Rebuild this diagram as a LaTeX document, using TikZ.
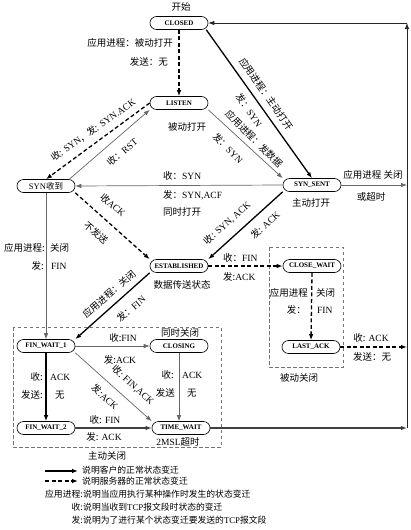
\documentclass[tikz,border=0pt]{standalone}
\usepackage{fontspec}
\setmainfont{Liberation Serif}
\newfontfamily\cjk{Noto Sans CJK SC}
\usetikzlibrary{arrows.meta}
\newcommand{\zh}[1]{{\cjk #1}}
\begin{document}
\begin{tikzpicture}[x=1pt,y=-1pt,
  state/.style={draw, line width=0.6pt, rounded corners=6.5pt, minimum width=58pt, minimum height=13pt, inner sep=1pt, font=\fontsize{7}{8}\selectfont\bfseries},
  lbl/.style={font=\fontsize{9.5}{11}\selectfont, inner sep=0pt},
  leg/.style={font=\fontsize{8.8}{10}\selectfont, inner sep=0pt},
  tip/.style={-{Latex[length=6pt,width=4.5pt]}},
  cli/.style={tip, line width=1.3pt, black},
  srv/.style={tip, line width=1.3pt, black, dash pattern=on 4pt off 2.5pt},
  oth/.style={tip, line width=0.7pt, black!60},
  thk/.style={tip, line width=1.5pt, black!75},
  rline/.style={tip, line width=0.8pt, black!85},
  boxd/.style={draw=black!55, line width=0.7pt, dash pattern=on 3.5pt off 2.5pt}
]
\useasboundingbox (0,0) rectangle (410,530);

% dashed group boxes
\draw[boxd] (269,247) rectangle (343,367);
\draw[boxd] (13,327) rectangle (221,447);

% states
\node[state] (closed) at (179,23) {CLOSED};
\node[state] (listen) at (179,103) {LISTEN};
\node[state, font=\fontsize{8.5}{9}\selectfont] (synrcvd) at (46,186) {SYN\zh{收到}};
\node[state] (synsent) at (312,185) {SYN\_SENT};
\node[state] (est) at (179,266) {ESTABLISHED};
\node[state] (closewait) at (312,266) {CLOSE\_WAIT};
\node[state] (lastack) at (311,347) {LAST\_ACK};
\node[state] (fw1) at (46,346) {FIN\_WAIT\_1};
\node[state] (closing) at (179,346) {CLOSING};
\node[state] (fw2) at (46,428) {FIN\_WAIT\_2};
\node[state] (tw) at (181,428) {TIME\_WAIT};

\coordinate (r1) at (407,185);
\coordinate (r2) at (407,347);
\coordinate (r3) at (407,428);
\coordinate (rtop) at (407,23);

% transitions
\draw[srv] (closed.south) -- (listen.north);
\draw[cli] ([xshift=-2pt]closed.south east) -- (synsent.north);
\draw[oth] (listen.south east) -- (synsent.north west);
\draw[srv] (listen.west) -- (synrcvd.north);
\draw[oth] ([xshift=-6pt]synrcvd.north east) -- (listen.south west);
\draw[oth] (synsent.west) -- (synrcvd.east);
\draw[srv] (synrcvd.south east) -- (est.north west);
\draw[cli] (synsent.south west) -- (est.north east);
\draw[srv] (est.east) -- (closewait.west);
\draw[srv] (closewait.south) -- (lastack.north);
\draw[srv] (lastack.east) -- (r2);
\draw[oth] (synsent.east) -- (r1);
\draw[cli] (est.south west) -- (fw1.north east);
\draw[oth] (synrcvd.south) -- (fw1.north);
\draw[oth] (fw1.east) -- (closing.west);
\draw[oth] (fw1.south east) -- (tw.north west);
\draw[cli] (fw1.south) -- (fw2.north);
\draw[oth] (closing.south) -- (closing.south |- tw.north);
\draw[thk] (fw2.east) -- (tw.west);
\draw[thk] (tw.east) -- (r3);
\draw[rline] (r3) -- (rtop);
\draw[rline] (rtop) -- (closed.east);

% labels
\node[lbl] (start) at (181,7) {\zh{开始}};
\node[lbl, anchor=east] at (173,43) {\zh{应用进程：被动打开}};
\node[lbl, anchor=east] at (168,62) {\zh{发送：无}};
\node[lbl] at (187,127) {\zh{被动打开}};
\node[lbl, rotate=-55] at (266,94) {\zh{应用进程：主动打开}};
\node[lbl, rotate=-55] at (249,110) {\zh{发：}SYN};
\node[lbl, rotate=-45] at (254,139) {\zh{应用进程：发数据}};
\node[lbl, rotate=-45] at (228,148) {\zh{发：}SYN};
\node[lbl, rotate=35] at (93,130) {\zh{收:} SYN\zh{，发:} SYN.ACK};
\node[lbl, rotate=40] at (122,152) {\zh{收：}RST};
\node[lbl, anchor=west] at (163,176) {\zh{收：}SYN};
\node[lbl, anchor=west] at (163,195) {\zh{发：}SYN,ACF};
\node[lbl, anchor=west] at (163,212) {\zh{同时打开}};
\node[lbl] at (311,203) {\zh{主动打开}};
\node[lbl] at (373,175) {\zh{应用进程 关闭}};
\node[lbl] at (371,197) {\zh{或超时}};
\node[lbl, rotate=-41] at (113,205) {\zh{收}ACK};
\node[lbl, rotate=-41] at (96,233) {\zh{不发送}};
\node[lbl, rotate=42] at (227,223) {\zh{收:} SYN, ACK};
\node[lbl, rotate=42] at (265,225) {\zh{发:} ACK};
\node[lbl, anchor=west] at (223,258) {\zh{收：}FIN};
\node[lbl, anchor=west] at (223,277) {\zh{发:}ACK};
\node[lbl] at (182,285) {\zh{数据传送状态}};
\node[lbl, anchor=east] at (45,248) {\zh{应用进程:}};
\node[lbl, anchor=west] at (50,248) {\zh{关闭}};
\node[lbl, anchor=east] at (44,266) {\zh{发:}};
\node[lbl, anchor=west] at (51,266) {FIN};
\node[lbl, rotate=41] at (109,294) {\zh{应用进程：关闭}};
\node[lbl, rotate=41] at (131,309) {\zh{发：}FIN};
\node[lbl, anchor=east] at (308,293) {\zh{应用进程}};
\node[lbl, anchor=west] at (316,293) {\zh{关闭}};
\node[lbl, anchor=east] at (306,310) {\zh{发：}};
\node[lbl, anchor=west] at (317,310) {FIN};
\node[lbl] at (299,378) {\zh{被动关闭}};
\node[lbl] at (371,338) {\zh{收:} ACK};
\node[lbl] at (372,357) {\zh{发送：无}};
\node[lbl] at (180,333) {\zh{同时关闭}};
\node[lbl] at (123,338) {\zh{收:}FIN};
\node[lbl] at (120,360) {\zh{发:}ACK};
\node[lbl, rotate=-42] at (133,385) {\zh{收:} FIN,ACK};
\node[lbl, rotate=-42] at (105,397) {\zh{发:}ACK};
\node[lbl, anchor=east] at (43,377) {\zh{收:}};
\node[lbl, anchor=west] at (50,377) {ACK};
\node[lbl, anchor=east] at (43,395) {\zh{发送:}};
\node[lbl, anchor=west] at (55,395) {\zh{无}};
\node[lbl, anchor=east] at (174,375) {\zh{收:}};
\node[lbl, anchor=west] at (182,375) {ACK};
\node[lbl, anchor=east] at (175,393) {\zh{发送}};
\node[lbl, anchor=west] at (187,393) {\zh{无}};
\node[lbl] at (105,420) {\zh{收:} FIN};
\node[lbl] at (104,437) {\zh{发:} ACK};
\node[lbl] at (178,442) {2MSL\zh{超时}};
\node[lbl] at (107,456) {\zh{主动关闭}};

% legend
\coordinate (la1) at (45,471); \coordinate (lb1) at (78,471);
\coordinate (la2) at (45,481); \coordinate (lb2) at (78,481);
\draw[cli] (la1) -- (lb1);
\draw[srv] (la2) -- (lb2);
\node[leg, anchor=west] at (82,470.5) {\zh{说明客户的正常状态变迁}};
\node[leg, anchor=west] at (82,481) {\zh{说明服务器的正常状态变迁}};
\node[leg, anchor=east] at (83,494) {\zh{应用进程:}};
\node[leg, anchor=west] at (83,494) {\zh{说明当应用执行某种操作时发生的状态变迁}};
\node[leg, anchor=east] at (83,507) {\zh{收:}};
\node[leg, anchor=west] at (83,507) {\zh{说明当收到}TCP\zh{报文段时状态的变迁}};
\node[leg, anchor=east] at (83,520) {\zh{发:}};
\node[leg, anchor=west] at (83,520) {\zh{说明为了进行某个状态变迁要发送的}TCP\zh{报文段}};
\end{tikzpicture}
\end{document}
